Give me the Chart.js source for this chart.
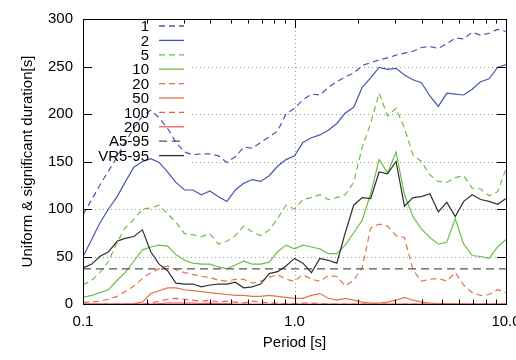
<!DOCTYPE html>
<html>
<head>
<meta charset="utf-8">
<script src="https://cdn.jsdelivr.net/npm/chart.js@4/dist/chart.umd.min.js"></script>
<style>
  html, body { margin: 0; padding: 0; background: #fff; overflow: hidden; }
  canvas { display: block; }
</style>
</head>
<body>
<canvas id="durChart" width="516" height="360"></canvas>
<script>
// periods [s]
let periods = [0.1, 0.11, 0.12, 0.132, 0.145, 0.158, 0.174, 0.191, 0.209, 0.229,
    0.251, 0.275, 0.302, 0.331, 0.363, 0.398, 0.437, 0.479, 0.525, 0.575,
    0.631, 0.692, 0.759, 0.832, 0.912, 1.0, 1.096, 1.202, 1.318, 1.445,
    1.585, 1.738, 1.905, 2.089, 2.291, 2.512, 2.754, 3.02, 3.311, 3.631,
    3.981, 4.365, 4.786, 5.248, 5.754, 6.31, 6.918, 7.586, 8.318, 9.12, 10.0];

// uniform durations per threshold
let dur1 = [94, 110, 125, 140, 155, 170, 185, 198, 204, 196,
    185, 170, 160, 157, 158, 158, 156, 149, 155, 165,
    164, 170, 176, 182, 200, 206, 215, 221, 220, 228,
    234, 239, 243, 251, 254, 257, 259, 262, 264, 266,
    270, 271, 269, 274, 280, 279, 286, 283, 285, 289, 287];
let dur2 = [50, 68, 85, 100, 113, 128, 144, 150, 153, 149,
    139, 128, 120, 120, 115, 119, 113, 108, 120, 127,
    131, 129, 135, 145, 152, 156, 170, 175, 178, 183,
    190, 201, 207, 228, 238, 249, 247, 248, 241, 236,
    233, 219, 208, 222, 221, 220, 226, 234, 237, 249, 252];
let dur5 = [20, 25, 33, 45, 65, 80, 89, 100, 101, 104,
    95, 86, 74, 73, 71, 74, 63, 66, 72, 82,
    76, 72, 78, 90, 104, 100, 110, 112, 115, 110,
    112, 115, 128, 165, 190, 222, 198, 206, 185, 157,
    150, 136, 129, 128, 133, 135, 122, 121, 114, 118, 142];
let dur10 = [7, 9, 12, 15, 25, 33, 45, 57, 60, 62,
    61, 52, 46, 43, 42, 42, 39, 37, 41, 45,
    42, 42, 44, 55, 62, 58, 62, 60, 58, 53,
    53, 62, 75, 88, 116, 152, 138, 160, 115, 92,
    79, 70, 63, 65, 90, 63, 51, 50, 48, 60, 68];
let dur20 = [2, 2, 3, 5, 8, 13, 19, 27, 33, 37,
    40, 36, 33, 31, 29, 28, 25, 24, 26, 26,
    22, 24, 28, 31, 26, 24, 31, 26, 24, 30,
    29, 19, 25, 38, 80, 84, 82, 72, 70, 36,
    24, 26, 27, 24, 33, 20, 12, 9, 10, 15, 12];
let dur50 = [0, 0, 0, 0, 0, 0, 0.5, 2, 11, 14,
    17, 17, 15, 14, 13, 12, 11, 10, 9, 9,
    8, 8, 9, 8, 7, 6, 6, 9, 11, 6,
    4, 6, 4, 2, 1, 1, 2, 4, 7, 4,
    2, 1, 0.5, 0.5, 0, 0, 0, 0, 0, 0, 0];
let dur100 = [0, 0, 0, 0, 0, 0, 0, 0, 1, 3,
    5, 6, 5, 4, 3, 4, 2, 3, 2, 1,
    3, 2, 1, 1, 0, 0.5, 1, 1, 0.5, 0,
    0, 0, 0, 0, 0, 0, 0, 0, 0, 0,
    0, 0, 0, 0, 0, 0, 0, 0, 0, 0, 0];
let dur200 = [0, 0, 0, 0, 0, 0, 0, 0, 0, 0.5,
    1, 1, 1, 1, 0.5, 1, 0.5, 0.5, 0, 0,
    0, 0, 0, 0, 0, 0, 0, 0, 0, 0,
    0, 0, 0, 0, 0, 0, 0, 0, 0, 0,
    0, 0, 0, 0, 0, 0, 0, 0, 0, 0, 0];
// significant durations
let a595 = 37;
let vr595 = [38, 42, 50, 55, 66, 69, 71, 78, 55, 42,
    35, 22, 21, 21, 18, 20, 21, 21, 23, 17,
    18, 21, 32, 34, 40, 48, 43, 33, 48, 46,
    43, 75, 104, 112, 111, 139, 137, 150, 103, 112,
    113, 116, 97, 107, 92, 108, 115, 110, 108, 105, 111];

let xTicks = [0.1, 1, 10];
let yTicks = [0, 50, 100, 150, 200, 250, 300];

function pts(arr) {
    return periods.map((p, i) => ({ x: p, y: arr[i] }));
}

let blue = "#4658ab", green = "#6cc045", orange = "#dc7646", red = "#f05a5a", black = "#303030";
let dash = [6, 4];

let series = [
    { label: "1", data: pts(dur1), color: blue, dash: dash },
    { label: "2", data: pts(dur2), color: blue, dash: [] },
    { label: "5", data: pts(dur5), color: green, dash: dash },
    { label: "10", data: pts(dur10), color: green, dash: [] },
    { label: "20", data: pts(dur20), color: orange, dash: dash },
    { label: "50", data: pts(dur50), color: orange, dash: [] },
    { label: "100", data: pts(dur100), color: red, dash: dash },
    { label: "200", data: pts(dur200), color: red, dash: [] },
    { label: "A5-95", data: [{ x: 0.1, y: a595 }, { x: 10, y: a595 }], color: "#555555", dash: [8, 5] },
    { label: "VR5-95", data: pts(vr595), color: black, dash: [] }
];

let fontName = "'Liberation Sans', Arial, sans-serif";

// gnuplot style frame, dotted grid, inward ticks and key
let framePlugin = {
    id: "frame",
    beforeDatasetsDraw(chart) {
        let a = chart.chartArea, c = chart.ctx;
        let xs = chart.scales.x, ys = chart.scales.y;
        c.save();
        c.strokeStyle = "#9a9a9a";
        c.lineWidth = 1;
        c.setLineDash([1, 3]);
        c.beginPath();
        yTicks.slice(1, -1).forEach(v => {
            let y = Math.round(ys.getPixelForValue(v)) + 0.5;
            let x0 = y < 165 ? 192 : a.left;
            c.moveTo(x0, y); c.lineTo(a.right, y);
        });
        xTicks.slice(1, -1).forEach(v => {
            let x = Math.round(xs.getPixelForValue(v)) + 0.5;
            c.moveTo(x, a.top); c.lineTo(x, a.bottom);
        });
        c.stroke();
        c.restore();
    },
    afterDraw(chart) {
        let a = chart.chartArea, c = chart.ctx;
        let xs = chart.scales.x, ys = chart.scales.y;
        c.save();
        c.strokeStyle = "#000";
        c.lineWidth = 1;
        c.setLineDash([]);
        c.beginPath();
        // y ticks both sides
        yTicks.forEach(v => {
            let y = Math.round(ys.getPixelForValue(v)) + 0.5;
            c.moveTo(a.left, y); c.lineTo(a.left + 9, y);
            c.moveTo(a.right, y); c.lineTo(a.right - 9, y);
        });
        // x ticks top and bottom
        [0.1, 1].forEach(d => {
            for (let m = 1; m <= 9; m++) {
                let len = m === 1 ? 9 : 4.5;
                let x = Math.round(xs.getPixelForValue(m * d)) + 0.5;
                c.moveTo(x, a.bottom); c.lineTo(x, a.bottom - len);
                c.moveTo(x, a.top); c.lineTo(x, a.top + len);
            }
        });
        c.stroke();
        c.strokeRect(Math.round(a.left) + 0.5, Math.round(a.top) + 0.5,
            Math.round(a.right - a.left), Math.round(a.bottom - a.top));

        // key
        c.font = "15px " + fontName;
        c.textAlign = "right";
        c.textBaseline = "middle";
        chart.data.datasets.forEach((ds, i) => {
            let y = 26 + i * 14.4;
            c.fillStyle = "#000";
            c.fillText(ds.label, 149, y + 1);
            c.strokeStyle = ds.borderColor;
            c.lineWidth = 1.3;
            c.setLineDash(ds.borderDash);
            c.beginPath();
            c.moveTo(159, y); c.lineTo(184, y);
            c.stroke();
        });
        c.restore();
    }
};

let ctx = document.getElementById("durChart").getContext("2d");

new Chart(ctx, {
    type: "line",
    data: {
        datasets: series.map((s, i) => ({
            label: s.label,
            data: s.data,
            borderColor: s.color,
            borderDash: s.dash,
            borderWidth: 1.2,
            pointRadius: 0,
            tension: 0,
            fill: false,
            order: series.length - i
        }))
    },
    options: {
        responsive: false,
        animation: false,
        layout: { padding: { left: 0, right: 10, top: 10, bottom: 0 } },
        plugins: { legend: { display: false }, tooltip: { enabled: false } },
        scales: {
            x: {
                type: "logarithmic",
                min: 0.1,
                max: 10,
                afterBuildTicks: s => { s.ticks = xTicks.map(v => ({ value: v })); },
                afterFit: s => { s.height = 56; s.paddingLeft = 0; s.paddingRight = 0; },
                ticks: {
                    callback: v => v.toFixed(1),
                    color: "#000",
                    font: { family: fontName, size: 15 },
                    padding: 9,
                    maxRotation: 0,
                    autoSkip: false
                },
                grid: { display: false, drawTicks: false },
                border: { display: false },
                title: {
                    display: true,
                    text: "Period [s]",
                    color: "#000",
                    font: { family: fontName, size: 15 },
                    padding: { top: 0, bottom: 8 }
                }
            },
            y: {
                min: 0,
                max: 300,
                afterBuildTicks: s => { s.ticks = yTicks.map(v => ({ value: v })); },
                afterFit: s => { s.width = 83; },
                ticks: {
                    color: "#000",
                    font: { family: fontName, size: 15 },
                    padding: 10
                },
                grid: { display: false, drawTicks: false },
                border: { display: false },
                title: {
                    display: true,
                    text: "Uniform & significant duration[s]",
                    color: "#000",
                    font: { family: fontName, size: 15 },
                    padding: { top: 19, bottom: 0 }
                }
            }
        }
    },
    plugins: [framePlugin]
});
</script>
</body>
</html>
